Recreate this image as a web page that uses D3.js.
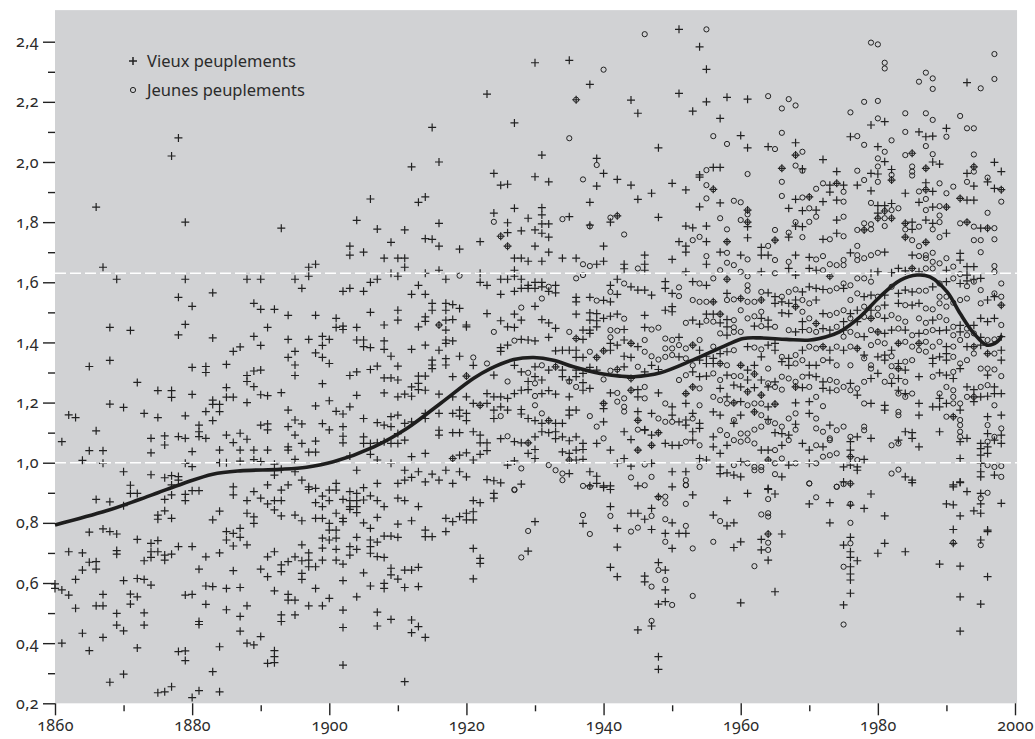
<!DOCTYPE html>
<html>
<head>
<meta charset="utf-8">
<script src="https://cdn.jsdelivr.net/npm/d3@7"></script>
<style>
  body { margin: 0; background: #fff; }
  svg text { font-family: 'Noto Sans', 'Open Sans', sans-serif; fill: #2b2b2b; font-variant-numeric: oldstyle-nums; font-feature-settings: 'onum' 1; }
</style>
</head>
<body>
<div id="chart"></div>
<script>
// Vieux peuplements (+) : [année, valeur]
let oldStands = [
  [1878,2.08],[1877,2.02],[1866,1.85],[1879,1.80],[1893,1.78],[1903,1.72],
  [1867,1.65],[1869,1.61],[1879,1.61],[1888,1.61],[1890,1.61],[1895,1.61],[1897,1.62],[1897,1.65],[1898,1.66],[1896,1.58],[1883,1.565],[1878,1.55],[1880,1.52],[1889,1.53],[1890,1.51],[1892,1.51],[1894,1.49],[1898,1.49],[1901,1.48],[1901,1.45],[1879,1.46],[1878,1.425],[1883,1.415],[1868,1.45],[1871,1.44],[1889,1.42],[1891,1.45],[1894,1.41],[1897,1.41],[1899,1.42],[1900,1.41],[1899,1.39],[1886,1.37],[1887,1.385],[1890,1.39],[1894,1.35],[1895,1.37],[1898,1.365],[1899,1.35],[1900,1.33],[1895,1.325],[1895,1.29],[1865,1.32],[1868,1.34],[1880,1.317],[1882,1.32],[1882,1.30],[1885,1.327],[1888,1.29],[1889,1.305],[1890,1.308],[1888,1.27],[1889,1.253],[1872,1.267],[1875,1.24],[1877,1.24],[1877,1.217],[1880,1.227],[1885,1.25],[1885,1.218],[1886,1.218],[1890,1.226],[1891,1.223],[1893,1.233],[1899,1.263],[1888,1.2],[1883,1.208],[1883,1.194],[1884,1.194],[1884,1.17],[1882,1.17],[1883,1.14],[1879,1.156],[1875,1.15],[1873,1.164],[1870,1.184],[1868,1.195],[1862,1.159],[1863,1.15],[1866,1.106],[1861,1.07],[1865,1.04],[1867,1.04],[1864,1.008],[1867,0.998],[1874,1.081],[1876,1.089],[1876,1.059],[1878,1.087],[1879,1.081],[1874,1.033],[1881,1.125],[1881,1.103],[1881,1.087],[1882,1.081],[1880,1.037],[1884,1.042],[1885,1.092],[1886,1.067],[1887,1.098],[1888,1.078],[1887,1.042],[1889,1.042],[1891,1.042],[1890,1.125],[1891,1.129],[1891,1.109],[1894,1.12],[1894,1.175],[1895,1.142],[1896,1.129],[1895,1.092],[1896,1.064],[1894,1.053],[1894,1.042],[1898,1.189],[1900,1.206],[1901,1.171],[1898,1.072],[1899,1.13],[1900,1.109],[1897,1.035],[1898,1.035],[1895,1.011],[1879,0.998],[1880,0.987],[1884,1.0],[1885,1.0],[1887,1.005],[1889,1.01],[1890,1.004],[1870,0.97],[1874,0.96],[1876,0.95],[1877,0.957],[1878,0.954],[1878,0.942],[1892,0.995],[1893,0.978],[1892,0.959],[1895,0.97],[1871,0.925],[1871,0.898],[1872,0.898],[1877,0.926],[1877,0.893],[1879,0.895],[1880,0.907],[1881,0.907],[1886,0.92],[1886,0.893],[1889,0.904],[1891,0.926],[1893,0.909],[1894,0.926],[1896,0.942],[1897,0.92],[1897,0.911],[1898,0.915],[1899,0.889],[1900,0.909],[1901,0.909],[1901,0.931],
  [1866,0.878],[1868,0.87],[1870,0.857],[1876,0.878],[1879,0.874],[1875,0.826],[1875,0.812],[1876,0.84],[1877,0.815],[1883,0.81],[1884,0.839],[1888,0.874],[1890,0.882],[1891,0.863],[1892,0.874],[1892,0.843],[1893,0.874],[1893,0.823],[1888,0.832],[1889,0.82],[1889,0.798],[1895,0.826],[1896,0.807],[1898,0.867],[1899,0.854],[1900,0.874],[1901,0.832],[1898,0.815],[1899,0.815],[1900,0.798],[1900,0.776],[1901,0.776],[1901,0.749],[1900,0.743],[1901,0.712],[1901,0.676],[1899,0.749],[1899,0.716],[1899,0.676],[1898,0.654],[1897,0.676],[1897,0.654],[1896,0.674],[1896,0.632],[1895,0.687],[1894,0.671],[1893,0.66],[1893,0.638],[1892,0.704],[1896,0.727],[1897,0.7],[1896,0.612],[1898,0.582],[1900,0.549],[1897,0.524],[1899,0.524],[1895,0.543],[1894,0.562],[1892,0.574],[1891,0.621],[1891,0.687],[1890,0.646],[1888,0.727],[1887,0.752],[1887,0.782],[1886,0.765],[1885,0.771],[1885,0.743],[1886,0.723],[1886,0.641],[1884,0.7],[1882,0.687],[1881,0.646],[1882,0.59],[1883,0.588],[1885,0.582],[1887,0.585],[1888,0.524],[1885,0.511],[1887,0.489],[1887,0.44],[1888,0.4],[1889,0.394],[1890,0.422],[1892,0.335],[1892,0.375],[1892,0.355],[1891,0.333],[1893,0.494],[1893,0.472],[1895,0.494],[1894,0.543],[1882,0.529],[1881,0.472],[1881,0.462],[1879,0.374],[1879,0.342],[1878,0.372],[1880,0.219],[1881,0.242],[1884,0.238],[1883,0.305],[1884,0.388],[1877,0.255],[1876,0.238],[1875,0.235],[1870,0.297],[1868,0.27],[1872,0.384],[1873,0.46],[1873,0.501],[1870,0.441],[1869,0.46],[1869,0.499],[1867,0.419],[1865,0.375],[1864,0.433],[1863,0.516],[1866,0.524],[1867,0.562],[1871,0.563],[1871,0.53],[1872,0.554],[1874,0.593],[1873,0.612],[1872,0.615],[1870,0.608],[1861,0.4],[1860,0.597],[1860,0.582],[1861,0.577],[1862,0.56],[1863,0.612],[1864,0.643],[1864,0.7],[1865,0.669],[1866,0.671],[1866,0.646],[1862,0.704],[1869,0.708],[1869,0.696],[1868,0.771],[1869,0.763],[1867,0.78],[1865,0.769],[1872,0.745],[1874,0.732],[1875,0.741],[1874,0.704],[1875,0.704],[1876,0.693],[1876,0.676],[1877,0.696],[1878,0.721],[1880,0.721],[1873,0.674],[1874,0.685],[1867,0.524],[1879,0.56],[1880,0.562],
  [1930,2.33],[1935,2.338],[1938,2.258],[1936,2.207],[1944,2.206],[1945,2.162],[1923,2.226],[1915,2.115],[1927,2.13],[1948,2.047],[1916,2.0],[1912,1.984],[1931,2.023],[1939,2.012],[1940,1.962],[1942,1.942],[1944,1.923],[1939,1.92],[1924,1.962],[1925,1.923],[1926,1.926],[1930,1.951],[1932,1.934],[1906,1.877],[1913,1.866],[1914,1.884],[1947,1.896],[1945,1.876],[1938,1.866],[1948,1.816],[1904,1.806],[1907,1.777],[1911,1.774],[1916,1.796],[1909,1.733],[1914,1.745],[1915,1.743],[1927,1.846],[1931,1.848],[1931,1.824],[1929,1.813],[1924,1.83],[1926,1.798],[1931,1.794],[1932,1.794],[1935,1.818],[1938,1.79],[1941,1.8],[1942,1.821],[1925,1.753],[1926,1.765],[1928,1.771],[1930,1.774],[1931,1.763],[1932,1.75],[1922,1.735],[1916,1.72],[1926,1.72],[1930,1.72],[1940,1.72],
  [1903,1.69],[1905,1.70],[1908,1.68],[1910,1.68],[1911,1.68],[1911,1.65],[1919,1.71],[1927,1.68],[1928,1.68],[1929,1.67],[1931,1.67],[1932,1.70],[1934,1.68],[1936,1.68],[1939,1.66],[1940,1.67],[1943,1.66],[1943,1.645],[1946,1.69],[1946,1.66],[1946,1.64],[1909,1.63],[1910,1.62],[1914,1.63],[1916,1.64],[1917,1.61],[1922,1.63],[1922,1.60],[1923,1.59],[1925,1.61],[1926,1.61],[1927,1.64],[1927,1.62],[1928,1.61],[1929,1.59],[1930,1.60],[1931,1.60],[1941,1.59],[1942,1.61],[1944,1.585],[1906,1.60],[1907,1.61],[1905,1.57],[1902,1.57],[1903,1.58],
  [1912,1.56],[1913,1.59],[1914,1.56],[1925,1.56],[1927,1.57],[1928,1.58],[1929,1.58],[1930,1.58],[1931,1.585],[1932,1.57],[1933,1.565],[1933,1.59],[1936,1.55],[1936,1.535],[1938,1.55],[1940,1.54],[1941,1.535],[1942,1.56],[1945,1.574],[1946,1.574],[1947,1.557],[1915,1.53],[1915,1.507],[1917,1.53],[1918,1.526],[1919,1.513],[1917,1.507],[1906,1.5],[1910,1.507],[1930,1.52],[1923,1.496],[1925,1.472],[1926,1.452],[1927,1.494],[1927,1.45],[1928,1.474],[1931,1.476],[1932,1.465],[1933,1.447],[1936,1.494],[1938,1.498],[1938,1.474],[1939,1.496],[1939,1.472],[1940,1.48],[1941,1.487],[1942,1.494],[1943,1.443],[1938,1.441],[1937,1.441],[1939,1.452],[1946,1.49],[1946,1.45],[1914,1.485],[1914,1.47],[1917,1.474],[1918,1.476],[1917,1.441],[1913,1.452],[1920,1.458],[1920,1.452],[1908,1.458],[1902,1.454],[1902,1.443],[1904,1.45],[1910,1.474],[1916,1.458],
  [1904,1.408],[1905,1.408],[1905,1.386],[1906,1.383],[1908,1.405],[1908,1.377],[1909,1.354],[1912,1.377],[1914,1.391],[1916,1.374],[1917,1.408],[1917,1.397],[1918,1.405],[1919,1.354],[1925,1.383],[1926,1.391],[1928,1.41],[1929,1.408],[1930,1.405],[1932,1.417],[1936,1.413],[1937,1.41],[1938,1.43],[1941,1.397],[1941,1.374],[1942,1.391],[1943,1.408],[1944,1.397],[1945,1.386],[1934,1.374],[1935,1.374],[1936,1.374],[1936,1.35],[1933,1.372],[1937,1.35],[1943,1.354],[1944,1.35],[1925,1.37],[1939,1.35],[1940,1.372],
  [1915,1.341],[1915,1.325],[1915,1.313],[1917,1.346],[1917,1.325],[1910,1.321],[1906,1.31],[1907,1.321],[1904,1.302],[1903,1.29],[1908,1.282],[1909,1.282],[1910,1.275],[1913,1.288],[1914,1.288],[1920,1.288],[1921,1.324],[1924,1.291],[1927,1.324],[1928,1.302],[1930,1.319],[1932,1.308],[1933,1.319],[1934,1.308],[1934,1.286],[1935,1.275],[1936,1.308],[1936,1.286],[1937,1.297],[1938,1.317],[1939,1.308],[1942,1.31],[1943,1.319],[1944,1.28],[1946,1.302],[1947,1.324],[1948,1.31],[1918,1.286],[1930,1.286],[1929,1.27],[1931,1.275],
  [1913,1.264],[1912,1.252],[1913,1.243],[1914,1.241],[1908,1.232],[1910,1.219],[1911,1.228],[1912,1.221],[1904,1.224],[1903,1.186],[1916,1.228],[1918,1.219],[1920,1.219],[1922,1.191],[1921,1.197],[1923,1.23],[1924,1.219],[1925,1.219],[1926,1.214],[1923,1.197],[1924,1.175],[1925,1.186],[1927,1.23],[1928,1.241],[1929,1.243],[1931,1.23],[1932,1.24],[1933,1.228],[1935,1.219],[1937,1.241],[1937,1.266],[1938,1.247],[1941,1.232],[1944,1.241],[1945,1.243],[1945,1.219],[1948,1.232],[1940,1.197],[1940,1.18],
  [1902,1.162],[1902,1.12],[1905,1.147],[1907,1.133],[1908,1.125],[1909,1.153],[1910,1.158],[1911,1.131],[1912,1.136],[1909,1.12],[1914,1.164],[1914,1.147],[1916,1.164],[1918,1.164],[1919,1.175],[1919,1.155],[1920,1.164],[1920,1.14],[1924,1.147],[1926,1.175],[1928,1.177],[1928,1.162],[1929,1.147],[1930,1.14],[1931,1.131],[1932,1.14],[1933,1.131],[1934,1.131],[1935,1.175],[1935,1.158],[1936,1.175],[1940,1.136],[1945,1.17],[1945,1.141],[1946,1.11],[1947,1.164],[1948,1.1],
  [1902,1.088],[1902,1.066],[1905,1.086],[1905,1.064],[1906,1.064],[1907,1.066],[1908,1.07],[1909,1.064],[1910,1.064],[1911,1.075],[1910,1.097],[1916,1.108],[1916,1.092],[1918,1.1],[1919,1.1],[1921,1.103],[1922,1.092],[1922,1.066],[1923,1.066],[1925,1.08],[1927,1.07],[1928,1.066],[1929,1.066],[1930,1.086],[1931,1.103],[1932,1.1],[1933,1.103],[1933,1.08],[1934,1.086],[1935,1.073],[1936,1.086],[1937,1.064],[1939,1.064],[1941,1.042],[1943,1.103],[1944,1.077],[1946,1.108],[1947,1.092],[1947,1.058],[1930,1.044],[1929,1.031],[1934,1.036],[1935,1.031],[1936,1.042],[1937,1.044],
  [1903,1.022],[1906,1.028],[1907,1.009],[1909,0.998],[1912,1.02],[1914,1.031],[1918,1.014],[1919,1.025],[1920,1.033],[1921,1.009],[1922,1.028],[1923,1.04],[1926,0.992],[1927,1.006],[1930,1.014],[1935,1.009],[1935,0.964],[1936,1.009],[1937,1.011],[1938,0.97],[1939,0.955],[1942,0.998],[1943,1.014],[1944,0.989],[1945,1.042],[1947,0.998],[1904,0.975],[1911,0.975],[1912,0.951],[1913,0.97],[1915,0.962],[1917,0.975],[1919,0.97],[1920,0.953],[1923,0.944],[1924,0.94],[1925,0.933],[1939,0.931],[1940,0.918],[1941,0.911],[1905,0.917],[1907,0.931],[1910,0.931],[1911,0.942],[1914,0.936],[1916,0.942],[1918,0.931],
  [1902,0.878],[1903,0.874],[1904,0.874],[1905,0.876],[1906,0.89],[1907,0.874],[1908,0.854],[1910,0.882],[1911,0.874],[1913,0.854],[1921,0.874],[1922,0.867],[1924,0.898],[1924,0.882],[1903,0.904],[1904,0.898],[1903,0.854],[1904,0.854],[1903,0.845],[1904,0.834],[1902,0.815],[1902,0.804],[1905,0.8],[1906,0.782],[1907,0.818],[1910,0.796],[1912,0.807],[1917,0.815],[1918,0.804],[1919,0.821],[1920,0.832],[1921,0.837],[1920,0.81],[1921,0.81],[1908,0.756],[1909,0.756],[1910,0.752],[1914,0.776],[1914,0.754],[1915,0.754],[1917,0.771],[1904,0.752],[1906,0.743],[1907,0.736],[1906,0.721],[1903,0.721],[1904,0.712],[1903,0.693],[1906,0.699],[1907,0.688],[1908,0.685],[1902,0.663],[1905,0.634],[1909,0.649],[1909,0.627],[1910,0.613],[1911,0.643],[1912,0.643],[1913,0.652],[1902,0.608],[1906,0.59],[1908,0.599],[1908,0.582],[1911,0.585],[1913,0.588],[1904,0.554],[1902,0.51],[1907,0.503],[1902,0.452],[1907,0.457],[1909,0.479],[1912,0.477],[1913,0.455],[1912,0.435],[1914,0.419],[1902,0.327],[1911,0.272],[1921,0.715],[1922,0.682],[1922,0.665],[1921,0.614],[1930,0.804],[1929,0.706],[1928,0.929],[1937,0.798],[1938,0.923],[1940,0.923],[1941,0.923],[1941,0.854],[1942,0.782],[1942,0.719],[1944,0.832],[1945,0.832],[1946,0.812],[1947,0.778],[1947,0.848],[1948,0.887],[1941,0.652],[1942,0.621],[1946,0.623],[1946,0.604],[1948,0.668],[1948,0.53],[1947,0.457],[1945,0.444],[1948,0.355],[1948,0.313],[1945,0.923],
  [1951,2.441],[1954,2.383],[1955,2.308],[1951,2.228],[1955,2.2],[1953,2.169],[1958,2.215],[1961,2.209],[1957,2.145],[1960,2.088],[1961,2.047],[1964,2.051],[1968,2.064],[1968,2.023],[1969,1.977],[1966,1.979],[1972,2.008],[1974,1.968],[1976,2.084],[1979,2.123],[1981,2.134],[1980,2.051],[1981,2.001],[1980,1.96],[1982,1.975],[1986,2.1],[1987,2.084],[1988,2.086],[1985,2.029],[1988,2.0],[1989,1.993],[1990,2.112],[1993,2.264],[1994,1.984],[1997,1.999],[1998,1.968],[1993,1.962],[1994,1.92],[1996,1.934],[1997,1.912],[1998,1.908],[1992,1.879],[1993,1.873],[1994,1.873],[1987,1.931],[1987,1.908],[1988,1.902],[1986,1.866],[1984,1.896],[1987,1.979],[1979,1.962],[1982,1.94],[1977,1.923],[1979,1.904],
  [1950,1.929],[1952,1.907],[1954,1.957],[1954,1.95],[1956,1.982],[1957,1.982],[1956,1.909],[1954,1.851],[1957,1.864],[1961,1.84],[1961,1.8],[1961,1.785],[1952,1.787],[1953,1.781],[1955,1.787],[1955,1.735],[1951,1.735],[1958,1.735],[1961,1.748],[1965,1.74],[1963,1.716],[1968,1.876],[1970,1.884],[1967,1.846],[1969,1.838],[1971,1.84],[1973,1.923],[1974,1.929],[1975,1.923],[1973,1.9],[1974,1.873],[1972,1.868],[1969,1.785],[1968,1.787],[1967,1.75],[1974,1.807],[1974,1.763],[1972,1.743],[1978,1.774],[1980,1.813],[1980,1.83],[1980,1.855],[1981,1.855],[1982,1.862],[1981,1.837],[1982,1.813],[1984,1.796],[1985,1.8],[1985,1.776],[1984,1.75],[1987,1.733],[1987,1.807],[1988,1.796],[1990,1.763],[1988,1.85],[1990,1.85],[1993,1.8],[1995,1.78],[1996,1.78],[1952,1.72],
  [1952,1.70],[1957,1.70],[1960,1.69],[1963,1.69],[1964,1.69],[1968,1.69],[1970,1.683],[1955,1.66],[1963,1.635],[1967,1.646],[1968,1.624],[1970,1.646],[1971,1.64],[1950,1.676],[1952,1.635],[1949,1.602],[1949,1.58],[1950,1.563],[1953,1.602],[1955,1.59],[1964,1.565],[1965,1.552],[1969,1.568],[1970,1.585],[1971,1.58],[1972,1.576],[1958,1.563],[1965,1.53],[1966,1.535],[1967,1.53],[1968,1.541],[1971,1.541],[1949,1.507],[1950,1.519],[1950,1.502],[1955,1.494],[1956,1.494],[1958,1.476],[1963,1.48],[1964,1.474],[1966,1.498],[1967,1.496],[1969,1.469],[1972,1.496],[1953,1.474],[1954,1.461],[1957,1.465],[1958,1.452],[1962,1.454],[1964,1.452],[1968,1.435],[1969,1.443],[1972,1.446],[1973,1.441],[1958,1.424],[1951,1.417],[1954,1.374],[1955,1.354],[1956,1.347],[1957,1.363],[1958,1.369],[1961,1.386],[1963,1.352],[1964,1.391],[1965,1.397],[1965,1.374],[1967,1.347],[1969,1.374],[1973,1.374],[1951,1.352],[1954,1.341],[1955,1.33],[1956,1.33],[1961,1.308],[1962,1.324],[1966,1.336],[1967,1.324],[1970,1.324],[1971,1.324],[1973,1.341],[1953,1.302],[1954,1.286],[1955,1.288],[1958,1.291],[1961,1.275],[1963,1.275],[1965,1.269],[1970,1.291],[1971,1.286],[1972,1.269],[1957,1.247],[1958,1.219],[1959,1.258],[1960,1.252],[1962,1.25],[1964,1.252],[1969,1.25],[1972,1.247],[1973,1.241],[1950,1.186],[1952,1.197],[1960,1.203],[1964,1.186],[1968,1.199],[1970,1.203],[1950,1.158],[1951,1.136],[1952,1.142],[1952,1.125],[1953,1.164],[1954,1.131],[1954,1.114],[1956,1.169],[1957,1.158],[1960,1.158],[1964,1.144],[1968,1.128],[1970,1.164],[1973,1.125],[1953,1.103],[1956,1.086],[1959,1.131],[1965,1.1],[1966,1.097],[1967,1.092],[1949,1.064],[1950,1.058],[1951,1.058],[1953,1.075],[1956,1.053],[1957,1.031],[1958,1.058],[1963,1.042],[1964,1.042],[1966,1.058],[1969,1.064],[1970,1.042],[1972,1.053],[1954,1.014],[1955,1.009],[1957,0.986],[1960,1.003],[1967,0.992],[1970,0.998],[1950,0.97],[1952,0.97],[1957,0.964],[1958,0.966],[1959,0.959],[1960,0.953],[1966,0.953],[1964,0.914],
  [1958,1.61],[1956,1.535],[1960,1.546],[1963,1.541],[1957,1.494],[1968,1.519],[1971,1.463],[1973,1.62],[1953,1.391],[1972,1.386],[1957,1.33],[1960,1.324],[1962,1.295],[1953,1.252],[1952,1.23],[1961,1.236],[1963,1.225],[1968,1.252],[1959,1.199],[1965,1.195],[1962,1.169],[1964,1.009],
  [1976,1.698],[1981,1.70],[1985,1.69],[1992,1.696],[1992,1.674],[1993,1.652],[1994,1.652],[1979,1.63],[1980,1.635],[1982,1.632],[1983,1.646],[1984,1.638],[1986,1.635],[1990,1.64],[1993,1.624],[1975,1.58],[1978,1.552],[1979,1.557],[1981,1.557],[1983,1.563],[1984,1.574],[1985,1.568],[1988,1.585],[1990,1.602],[1992,1.596],[1993,1.605],[1994,1.61],[1995,1.613],[1996,1.541],[1997,1.552],[1983,1.53],[1985,1.524],[1986,1.53],[1981,1.524],[1979,1.507],[1977,1.507],[1976,1.496],[1975,1.469],[1977,1.469],[1981,1.48],[1988,1.474],[1992,1.457],[1994,1.457],[1995,1.48],[1996,1.469],[1997,1.48],[1975,1.441],[1978,1.419],[1981,1.43],[1982,1.441],[1984,1.441],[1986,1.43],[1989,1.439],[1990,1.441],[1992,1.435],[1995,1.417],[1998,1.419],[1975,1.374],[1978,1.358],[1982,1.374],[1990,1.386],[1993,1.386],[1995,1.391],[1998,1.374],[1980,1.352],[1981,1.358],[1981,1.341],[1983,1.33],[1984,1.308],[1986,1.286],[1988,1.347],[1988,1.33],[1989,1.352],[1990,1.363],[1990,1.341],[1992,1.313],[1996,1.291],[1998,1.341],[1979,1.28],[1980,1.297],[1982,1.264],[1983,1.28],[1983,1.241],[1984,1.23],[1989,1.299],[1990,1.291],[1991,1.28],[1977,1.225],[1979,1.197],[1976,1.264],[1981,1.191],[1981,1.175],[1986,1.197],[1986,1.158],[1988,1.186],[1989,1.186],[1990,1.197],[1992,1.175],[1993,1.252],[1994,1.243],[1995,1.219],[1996,1.221],[1997,1.252],[1997,1.23],[1998,1.23],[1994,1.203],[1989,1.214],[1996,1.153],[1998,1.158],[1976,1.07],[1977,1.086],[1979,1.081],[1983,1.075],[1984,1.103],[1985,1.1],[1985,1.081],[1986,1.053],[1989,1.103],[1992,1.07],[1993,1.081],[1995,1.064],[1996,1.097],[1997,1.075],[1998,1.092],[1998,1.064],[1995,1.047],[1996,1.053],[1976,1.042],[1978,1.011],[1977,0.986],[1977,0.975],[1975,0.986],[1976,0.992],[1992,1.014],[1995,1.025],[1996,1.031],[1995,0.998],[1995,0.97],[1995,0.953],[1997,0.959],[1984,0.953],[1985,0.942],[1991,0.92],[1992,0.936],[1975,0.936],
  [1985,1.646],[1998,1.524],[1979,1.48],[1980,1.435],[1977,1.38],[1983,1.397],[1986,1.397],[1994,1.386],[1996,1.363],[1983,1.313],[1994,1.219],[1991,1.153],[1976,1.02],
  [1950,0.92],[1953,0.893],[1958,0.874],[1961,0.898],[1964,0.911],[1965,0.896],[1970,0.863],[1973,0.867],[1973,0.8],[1976,0.93],[1978,0.848],[1979,0.896],[1981,0.823],[1985,0.934],[1990,0.863],[1991,0.86],[1991,0.926],[1992,0.934],[1993,0.904],[1994,0.84],[1995,0.863],[1995,0.832],[1995,0.898],[1998,0.865],[1992,0.823],[1991,0.778],[1996,0.771],[1995,0.743],[1950,0.8],[1949,0.765],[1951,0.765],[1952,0.765],[1956,0.826],[1958,0.79],[1959,0.8],[1960,0.737],[1959,0.718],[1950,0.715],[1963,0.745],[1963,0.71],[1964,0.763],[1964,0.676],[1966,0.763],[1949,0.643],[1949,0.577],[1949,0.538],[1960,0.534],[1965,0.571],[1976,0.752],[1975,0.726],[1976,0.704],[1976,0.685],[1977,0.674],[1976,0.654],[1976,0.63],[1976,0.61],[1976,0.566],[1975,0.527],[1980,0.699],[1981,0.732],[1984,0.704],[1989,0.663],[1992,0.656],[1991,0.732],[1996,0.621],[1992,0.554],[1995,0.53],[1992,0.44],[1976,0.859],[1996,0.776]
]

// Jeunes peuplements (o) : [année, valeur]
let youngStands = [
  [1946,2.425],[1940,2.307],[1936,2.207],[1935,2.079],[1939,1.99],[1937,1.942],[1924,1.801],[1934,1.81],[1938,1.786],[1941,1.815],[1942,1.821],[1943,1.759],[1925,1.753],[1926,1.72],
  [1937,1.66],[1938,1.654],[1945,1.646],[1919,1.622],[1936,1.613],[1937,1.624],[1943,1.596],[1932,1.585],[1931,1.546],[1939,1.539],[1941,1.568],[1928,1.516],[1943,1.479],[1941,1.441],[1942,1.439],[1947,1.443],[1948,1.449],[1924,1.435],[1921,1.35],[1927,1.406],[1935,1.435],[1936,1.413],[1938,1.369],[1939,1.35],[1940,1.372],[1941,1.417],[1944,1.397],[1946,1.408],[1946,1.369],[1947,1.354],[1948,1.343],[1916,1.458],[1923,1.33],[1920,1.288],[1929,1.299],[1931,1.324],[1933,1.319],[1940,1.277],[1941,1.306],[1942,1.31],[1944,1.28],[1945,1.319],[1926,1.27],[1930,1.264],[1935,1.27],[1922,1.191],[1930,1.222],[1936,1.252],[1942,1.232],[1943,1.214],[1942,1.203],[1943,1.186],[1943,1.17],[1944,1.241],[1946,1.252],[1946,1.214],[1940,1.197],[1930,1.191],[1931,1.164],[1932,1.14],[1925,1.155],[1938,1.155],[1939,1.12],[1945,1.141],[1948,1.147],[1948,1.1],[1926,1.088],[1929,1.066],[1940,1.081],[1945,1.11],[1947,1.058],[1946,0.994],[1918,1.014],[1928,0.981],[1932,0.992],[1933,0.975],[1934,0.964],[1934,0.942],[1935,1.009],[1944,0.951],[1946,0.925],[1947,0.953],[1927,0.911],[1938,0.92],[1945,1.042],
  [1927,0.909],[1929,0.773],[1928,0.685],[1937,0.826],[1938,0.763],[1937,0.923],[1941,0.823],[1944,0.771],[1945,0.784],[1947,0.823],[1948,0.885],[1948,0.643],[1947,0.588],[1947,0.474],
  [1949,0.887],[1949,0.865],[1952,0.926],[1952,0.863],[1949,0.812],[1952,0.79],[1949,0.737],[1953,0.715],[1956,0.737],[1957,0.806],[1963,0.828],[1964,0.832],[1964,0.821],[1964,0.879],[1964,0.763],[1964,0.734],[1964,0.71],[1962,0.656],[1949,0.61],[1950,0.527],[1953,0.557],[1970,0.931],[1971,0.885],[1974,0.92],[1975,0.929],[1976,0.863],[1976,0.8],[1976,0.732],[1975,0.654],[1975,0.462],[1991,0.734],[1995,0.726],[1995,0.882],[1996,0.9],
  [1955,2.441],[1964,2.219],[1966,2.178],[1967,2.209],[1968,2.188],[1956,2.086],[1958,2.06],[1965,2.043],[1966,2.097],[1968,2.023],[1969,2.034],[1968,1.988],[1969,1.971],[1966,1.979],[1966,1.934],[1961,1.96],[1977,1.971],[1977,2.086],[1978,2.2],[1980,2.203],[1976,2.165],[1979,2.397],[1980,2.391],[1981,2.33],[1981,2.311],[1980,2.145],[1978,2.057],[1981,2.034],[1980,2.012],[1980,1.985],[1982,2.072],[1982,1.957],[1982,1.94],[1984,2.162],[1984,2.1],[1987,2.162],[1988,2.14],[1986,2.267],[1987,2.297],[1988,2.278],[1988,2.243],[1987,2.053],[1984,2.023],[1985,2.029],[1988,2.026],[1990,2.084],[1992,2.153],[1993,2.112],[1994,2.112],[1995,2.245],[1997,2.359],[1997,2.276],[1994,2.025],[1994,1.984],[1994,1.968],[1993,1.934],[1996,1.948],[1998,1.908],[1998,1.868],[1996,1.831],[1992,1.879],[1991,1.918],[1990,1.896],[1989,1.929],[1987,1.908],[1986,1.902],[1987,1.877],[1987,1.979],[1985,1.985],[1985,1.968],[1985,1.955],[1980,1.934],[1978,1.94],
  [1955,1.973],[1955,1.923],[1956,1.909],[1955,1.879],[1959,1.871],[1960,1.866],[1961,1.84],[1961,1.826],[1960,1.807],[1961,1.8],[1957,1.813],[1958,1.776],[1953,1.74],[1954,1.751],[1958,1.735],[1964,1.721],[1965,1.74],[1965,1.774],[1966,1.887],[1969,1.882],[1970,1.884],[1970,1.846],[1971,1.911],[1972,1.929],[1974,1.929],[1975,1.901],[1975,1.868],[1971,1.818],[1970,1.801],[1968,1.8],[1967,1.765],[1969,1.75],[1975,1.818],[1973,1.743],[1975,1.753],[1977,1.721],[1977,1.774],[1978,1.774],[1979,1.776],[1978,1.796],[1979,1.793],[1980,1.813],[1981,1.813],[1979,1.864],[1983,1.846],[1981,1.837],[1982,1.84],[1982,1.813],[1981,1.787],[1984,1.796],[1986,1.785],[1984,1.776],[1984,1.75],[1985,1.74],[1986,1.72],[1987,1.733],[1989,1.8],[1988,1.776],[1989,1.75],[1987,1.84],[1989,1.853],[1990,1.85],[1989,1.822],[1992,1.796],[1993,1.8],[1994,1.785],[1996,1.78],[1997,1.78],[1994,1.74],[1995,1.74],[1997,1.743],
  [1955,1.687],[1958,1.698],[1961,1.676],[1965,1.674],[1967,1.668],[1971,1.676],[1972,1.687],[1973,1.66],[1974,1.657],[1958,1.665],[1959,1.657],[1960,1.635],[1961,1.62],[1965,1.63],[1972,1.64],[1957,1.64],[1951,1.583],[1951,1.554],[1954,1.596],[1956,1.613],[1961,1.59],[1961,1.572],[1963,1.568],[1966,1.552],[1967,1.568],[1968,1.576],[1973,1.572],[1974,1.58],[1953,1.541],[1954,1.535],[1955,1.535],[1958,1.541],[1959,1.543],[1961,1.535],[1962,1.535],[1969,1.541],[1970,1.53],[1959,1.474],[1960,1.507],[1961,1.48],[1962,1.487],[1963,1.502],[1965,1.452],[1969,1.502],[1970,1.48],[1973,1.491],[1974,1.498],[1952,1.465],[1955,1.472],[1956,1.469],[1959,1.45],[1960,1.435],[1963,1.454],[1967,1.441],[1970,1.441],[1971,1.435],[1974,1.452],[1957,1.43],[1959,1.435],[1949,1.413],[1950,1.408],[1954,1.408],[1949,1.38],[1950,1.38],[1951,1.391],[1952,1.38],[1956,1.386],[1959,1.374],[1962,1.383],[1963,1.377],[1966,1.352],[1968,1.358],[1970,1.386],[1971,1.38],[1974,1.386],[1949,1.352],[1950,1.358],[1952,1.347],[1953,1.324],[1958,1.324],[1964,1.313],[1968,1.33],[1969,1.341],[1972,1.341],[1974,1.324],[1951,1.275],[1952,1.291],[1956,1.297],[1957,1.275],[1959,1.288],[1960,1.288],[1964,1.264],[1966,1.286],[1967,1.28],[1968,1.269],[1969,1.286],[1973,1.275],[1974,1.269],[1954,1.247],[1956,1.219],[1965,1.252],[1966,1.243],[1970,1.252],[1971,1.219],[1974,1.241],[1949,1.197],[1954,1.191],[1957,1.208],[1958,1.197],[1961,1.191],[1962,1.197],[1963,1.197],[1972,1.188],[1949,1.136],[1950,1.136],[1953,1.147],[1959,1.142],[1963,1.158],[1965,1.131],[1966,1.12],[1967,1.147],[1968,1.164],[1971,1.147],[1971,1.114],[1972,1.103],[1974,1.108],[1957,1.108],[1958,1.092],[1960,1.097],[1961,1.097],[1962,1.11],[1963,1.12],[1964,1.136],[1968,1.11],[1973,1.081],[1952,1.07],[1954,1.058],[1959,1.075],[1960,1.07],[1961,1.075],[1962,1.064],[1965,1.042],[1967,1.075],[1971,1.058],[1973,1.075],[1974,1.031],[1959,0.992],[1961,0.998],[1962,0.986],[1963,0.986],[1965,0.998],[1966,1.014],[1968,0.998],[1971,0.998],[1972,1.02],[1973,1.025],[1952,0.942],[1952,0.925],[1954,0.986],[1962,0.975],[1963,0.975],[1965,0.962],[1970,0.931],[1974,0.92],
  [1958,1.61],[1956,1.535],[1960,1.546],[1963,1.541],[1957,1.494],[1968,1.519],[1971,1.463],[1973,1.62],[1953,1.391],[1972,1.386],[1957,1.33],[1960,1.324],[1962,1.295],[1953,1.252],[1952,1.23],[1961,1.236],[1963,1.225],[1968,1.252],[1959,1.199],[1965,1.195],[1962,1.169],[1964,1.009],
  [1975,1.674],[1975,1.657],[1977,1.674],[1977,1.69],[1978,1.68],[1979,1.69],[1980,1.698],[1986,1.687],[1987,1.69],[1987,1.68],[1988,1.698],[1988,1.668],[1989,1.663],[1990,1.68],[1995,1.70],[1997,1.654],[1997,1.635],[1987,1.646],[1988,1.646],[1991,1.652],[1992,1.627],[1975,1.596],[1976,1.59],[1977,1.613],[1978,1.613],[1979,1.602],[1977,1.563],[1976,1.541],[1980,1.552],[1982,1.585],[1986,1.572],[1987,1.572],[1989,1.596],[1991,1.613],[1993,1.587],[1994,1.602],[1995,1.574],[1997,1.563],[1998,1.596],[1998,1.552],[1989,1.552],[1990,1.552],[1991,1.532],[1992,1.541],[1993,1.546],[1995,1.53],[1984,1.524],[1987,1.513],[1988,1.51],[1989,1.53],[1990,1.519],[1980,1.513],[1978,1.519],[1975,1.507],[1976,1.48],[1978,1.485],[1980,1.491],[1982,1.491],[1983,1.48],[1984,1.469],[1986,1.48],[1987,1.465],[1989,1.485],[1990,1.474],[1991,1.452],[1993,1.446],[1998,1.458],[1976,1.435],[1977,1.424],[1979,1.441],[1983,1.446],[1985,1.424],[1987,1.435],[1988,1.441],[1991,1.424],[1993,1.424],[1994,1.43],[1996,1.408],[1997,1.41],[1975,1.419],[1976,1.386],[1979,1.391],[1980,1.402],[1981,1.397],[1984,1.402],[1985,1.386],[1986,1.374],[1987,1.402],[1988,1.386],[1989,1.402],[1991,1.386],[1992,1.408],[1997,1.363],[1976,1.324],[1978,1.347],[1979,1.324],[1979,1.313],[1982,1.354],[1982,1.321],[1984,1.336],[1985,1.341],[1987,1.369],[1991,1.352],[1992,1.33],[1993,1.341],[1994,1.363],[1995,1.313],[1996,1.313],[1997,1.31],[1998,1.288],[1975,1.252],[1976,1.241],[1977,1.247],[1978,1.269],[1981,1.269],[1982,1.288],[1984,1.269],[1985,1.23],[1988,1.286],[1991,1.302],[1978,1.197],[1983,1.23],[1984,1.219],[1991,1.197],[1991,1.241],[1991,1.219],[1992,1.197],[1995,1.252],[1996,1.258],[1993,1.219],[1989,1.23],[1990,1.252],[1983,1.158],[1983,1.169],[1990,1.153],[1992,1.142],[1992,1.125],[1997,1.191],[1975,1.12],[1976,1.086],[1978,1.12],[1978,1.108],[1982,1.058],[1983,1.064],[1992,1.103],[1992,1.086],[1996,1.125],[1997,1.086],[1998,1.114],[1996,1.07],[1977,1.009],[1996,0.992],[1997,0.986],[1998,0.989],[1998,0.953],[1982,0.964],[1983,0.977],[1976,0.931],
  [1985,1.646],[1998,1.524],[1979,1.48],[1980,1.435],[1977,1.38],[1983,1.397],[1986,1.397],[1994,1.386],[1996,1.363],[1983,1.313],[1994,1.219],[1991,1.153],[1976,1.02]
]

// courbe lissée
let curveYears = [1860,1867.5,1872,1875,1878.7,1883,1887,1892.8,1896.7,1900.6,1906.5,1911.3,1916.2,1921,1923.5,1926.9,1929.8,1932.7,1935.6,1939.5,1942.4,1944.4,1948.3,1953,1957.9,1960.4,1962.8,1966.7,1970.1,1972.5,1974.4,1977.4,1980.3,1983.3,1985.7,1987.6,1990.1,1992,1994,1995.9,1997.4,1998.1]
let curveValues = [0.793,0.84,0.875,0.9,0.931,0.962,0.973,0.978,0.985,1.003,1.053,1.114,1.197,1.28,1.313,1.343,1.35,1.341,1.319,1.297,1.288,1.286,1.299,1.341,1.391,1.413,1.415,1.41,1.408,1.419,1.435,1.485,1.552,1.607,1.624,1.618,1.568,1.496,1.43,1.391,1.402,1.424]

let refLevels = [1.0, 1.63]
let yMajorTicks = [0.2, 0.4, 0.6, 0.8, 1.0, 1.2, 1.4, 1.6, 1.8, 2.0, 2.2, 2.4]
let yMinorTicks = [0.3, 0.5, 0.7, 0.9, 1.1, 1.3, 1.5, 1.7, 1.9, 2.1, 2.3]
let xMajorTicks = [1860, 1880, 1900, 1920, 1940, 1960, 1980, 2000]
let xMinorTicks = [1870, 1890, 1910, 1930, 1950, 1970, 1990]
let legendLabels = ['Vieux peuplements', 'Jeunes peuplements']

let width = 1035
let height = 739

let svg = d3.select('#chart')
  .append('svg')
  .attr('width', width)
  .attr('height', height)

let xScale = d3.scaleLinear().domain([1860, 2000]).range([55, 1015])
let yScale = d3.scaleLinear().domain([0.2, 2.4]).range([703.3, 41.7])

let fr = d3.formatLocale({ decimal: ',', thousands: ' ', grouping: [3], currency: ['', ' €'] })
let fmt = fr.format('.1f')

// fond gris
svg.append('rect')
  .attr('x', xScale(1860))
  .attr('y', yScale(2.505))
  .attr('width', xScale(2000.3) - xScale(1860))
  .attr('height', yScale(0.2) - yScale(2.505))
  .attr('fill', '#d1d2d4')

let ink = '#222'

let plus = (cx, cy) => `M${cx - 4},${cy}h8M${cx},${cy - 4}v8`

svg.append('g')
  .selectAll('path')
  .data(oldStands)
  .enter()
  .append('path')
  .attr('d', d => plus(xScale(d[0]), yScale(d[1])))
  .attr('stroke', ink)
  .attr('stroke-width', 1.2)
  .attr('fill', 'none')

svg.append('g')
  .selectAll('circle')
  .data(youngStands)
  .enter()
  .append('circle')
  .attr('cx', d => xScale(d[0]))
  .attr('cy', d => yScale(d[1]))
  .attr('r', 2.6)
  .attr('stroke', ink)
  .attr('stroke-width', 1)
  .attr('fill', 'none')

// lignes de référence
svg.append('g')
  .selectAll('line')
  .data(refLevels)
  .enter()
  .append('line')
  .attr('x1', xScale(1860))
  .attr('x2', xScale(2000.3))
  .attr('y1', d => yScale(d))
  .attr('y2', d => yScale(d))
  .attr('stroke', '#fff')
  .attr('stroke-width', 1.6)
  .attr('stroke-dasharray', '11,4')

let line = d3.line()
  .x(d => xScale(d[0]))
  .y(d => yScale(d[1]))
  .curve(d3.curveCatmullRom.alpha(0.5))

svg.append('path')
  .datum(curveYears.map((yr, i) => [yr, curveValues[i]]))
  .attr('d', line)
  .attr('fill', 'none')
  .attr('stroke', '#1e1e1e')
  .attr('stroke-width', 3.6)

// axes
svg.append('g')
  .attr('transform', `translate(${xScale(1860)},0)`)
  .call(d3.axisLeft(yScale).tickValues(yMajorTicks).tickSize(12).tickPadding(4).tickFormat(fmt))
svg.append('g')
  .attr('transform', `translate(${xScale(1860)},0)`)
  .call(d3.axisLeft(yScale).tickValues(yMinorTicks).tickSize(7).tickFormat(''))

svg.append('g')
  .attr('transform', `translate(0,${yScale(0.2)})`)
  .call(d3.axisBottom(xScale).tickValues(xMajorTicks).tickSize(12).tickPadding(4).tickFormat(d3.format('d')))
svg.append('g')
  .attr('transform', `translate(0,${yScale(0.2) + 2})`)
  .call(d3.axisBottom(xScale).tickValues(xMinorTicks).tickSize(6).tickFormat(''))

svg.selectAll('.domain').remove()
svg.selectAll('.tick line').attr('stroke', ink).attr('stroke-width', 1.4)
svg.selectAll('.tick text').attr('font-size', 16).attr('fill', '#2b2b2b').attr('letter-spacing', 0.4)

// légende
let legend = svg.append('g').attr('transform', 'translate(133,61)')
legend.append('path').attr('d', plus(0, 0)).attr('stroke', ink).attr('stroke-width', 1.5)
legend.append('circle').attr('cx', 0).attr('cy', 29).attr('r', 2.6).attr('fill', 'none').attr('stroke', ink).attr('stroke-width', 1)
legend.selectAll('text')
  .data(legendLabels)
  .enter()
  .append('text')
  .attr('x', 14)
  .attr('y', (d, i) => i * 29)
  .attr('dy', '0.36em')
  .attr('font-size', 16.5)
  .text(d => d)
</script>
</body>
</html>
